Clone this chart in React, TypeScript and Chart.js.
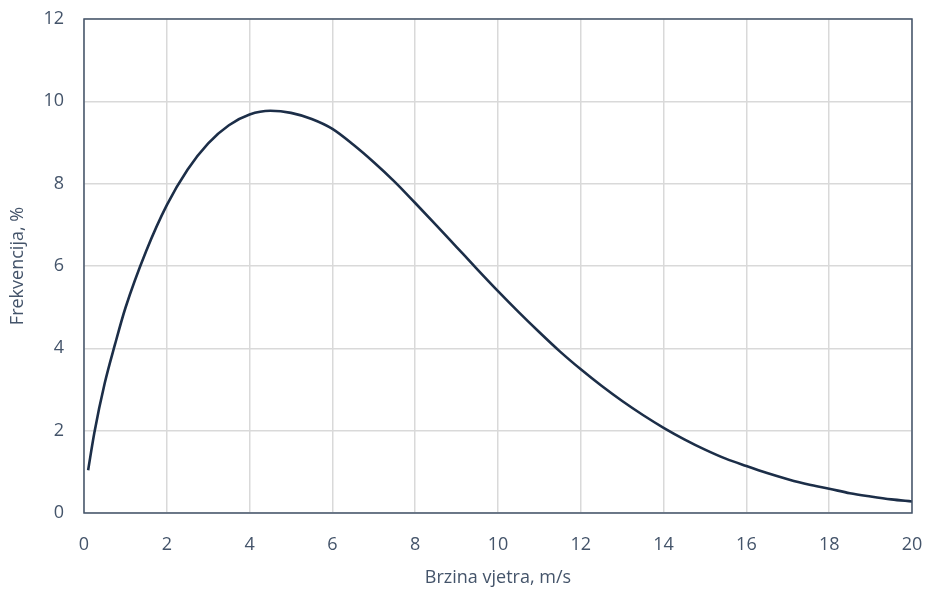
import React, { useEffect, useRef } from "react";
import { Chart, registerables } from "chart.js";

Chart.register(...registerables);

const windSpeed = [0.1, 0.25, 0.5, 0.75, 1.0, 1.5, 2.0, 2.5, 3.0, 3.5, 4.0, 4.5, 5.0, 5.5, 6.0, 6.5, 7.0, 7.5, 8.0, 8.5, 9.0, 9.5, 10.0, 10.5, 11.0, 11.5, 12.0, 12.5, 13.0, 13.5, 14.0, 14.5, 15.0, 15.5, 16.0, 16.5, 17.0, 17.5, 18.0, 18.5, 19.0, 19.5, 20.0];
const frequency = [1.04, 1.95, 3.15, 4.1, 4.98, 6.36, 7.48, 8.34, 8.98, 9.42, 9.68, 9.77, 9.72, 9.57, 9.33, 8.95, 8.52, 8.05, 7.53, 7.0, 6.46, 5.92, 5.39, 4.88, 4.39, 3.92, 3.49, 3.09, 2.72, 2.38, 2.07, 1.79, 1.54, 1.32, 1.14, 0.97, 0.82, 0.69, 0.59, 0.48, 0.4, 0.33, 0.28];

const xTitle = "Brzina vjetra, m/s";
const yTitle = "Frekvencija, %";

const TEXT = "#44546A";
const LINE = "#1C2E48";
const GRID = "#D9D9D9";
const FONT = "'Open Sans', 'Noto Sans', sans-serif";

const borderPlugin = {
  id: "plotBorder",
  afterDraw(chart: any) {
    const { ctx, chartArea } = chart;
    ctx.save();
    ctx.strokeStyle = TEXT;
    ctx.lineWidth = 1.5;
    ctx.strokeRect(chartArea.left, chartArea.top, chartArea.right - chartArea.left, chartArea.bottom - chartArea.top);
    ctx.restore();
  },
};

function zeroPad(s: any) {
  s.paddingTop = 0;
  s.paddingBottom = 0;
  s.paddingLeft = 0;
  s.paddingRight = 0;
}

export default function App() {
  const ref = useRef<HTMLCanvasElement | null>(null);

  useEffect(() => {
    document.body.style.margin = "0";
    if (!ref.current) return;
    const chart = new Chart(ref.current, {
      type: "line",
      data: {
        datasets: [
          {
            data: windSpeed.map((x, i) => ({ x, y: frequency[i] })),
            borderColor: LINE,
            borderWidth: 2.6,
            pointRadius: 0,
            fill: false,
            cubicInterpolationMode: "monotone",
          },
        ],
      },
      options: {
        animation: false,
        responsive: false,
        maintainAspectRatio: false,
        plugins: { legend: { display: false }, tooltip: { enabled: false } },
        layout: { padding: { left: 0, right: 13, top: 19, bottom: 0 } },
        scales: {
          x: {
            type: "linear",
            min: 0,
            max: 20,
            ticks: { stepSize: 2, color: TEXT, font: { family: FONT, size: 18 }, padding: 21 },
            grid: { color: GRID, lineWidth: 1.5, drawTicks: false },
            border: { display: false },
            title: { display: true, text: xTitle, color: TEXT, font: { family: FONT, size: 18 }, padding: { top: 0, bottom: 0 } },
            afterFit(s: any) { s.height = 76; zeroPad(s); },
          },
          y: {
            min: 0,
            max: 12,
            ticks: { stepSize: 2, color: TEXT, font: { family: FONT, size: 18 }, padding: 20 },
            grid: { color: GRID, lineWidth: 1.5, drawTicks: false },
            border: { display: false },
            title: { display: true, text: yTitle, color: TEXT, font: { family: FONT, size: 18 }, padding: { top: 7, bottom: 0 } },
            afterFit(s: any) { s.width = 84; zeroPad(s); },
          },
        },
      },
      plugins: [borderPlugin],
    } as any);
    return () => chart.destroy();
  }, []);

  return (
    <div style={{ width: 925, height: 589, background: "#fff" }}>
      <canvas ref={ref} width={925} height={589} style={{ display: "block" }} />
    </div>
  );
}
